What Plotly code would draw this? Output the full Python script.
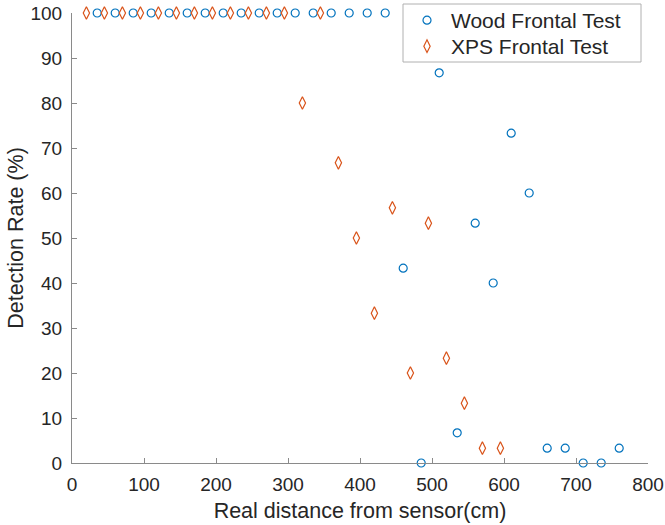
import plotly.graph_objects as go

# Detection rate vs. real distance for two frontal tests
wood_distance = [35, 60, 85, 110, 135, 160, 185, 210, 235, 260, 285, 310, 335, 360, 385, 410, 435,
                 460, 485, 510, 535, 560, 585, 610, 635, 660, 685, 710, 735, 760]
wood_rate = [100, 100, 100, 100, 100, 100, 100, 100, 100, 100, 100, 100, 100, 100, 100, 100, 100,
             43.3, 0, 86.7, 6.7, 53.3, 40, 73.3, 60, 3.3, 3.3, 0, 0, 3.3]

xps_distance = [20, 45, 70, 95, 120, 145, 170, 195, 220, 245, 270, 295, 320, 345,
                370, 395, 420, 445, 470, 495, 520, 545, 570, 595]
xps_rate = [100, 100, 100, 100, 100, 100, 100, 100, 100, 100, 100, 100, 80, 100,
            66.7, 50, 33.3, 56.7, 20, 53.3, 23.3, 13.3, 3.3, 3.3]

x_ticks = [0, 100, 200, 300, 400, 500, 600, 700, 800]
y_ticks = [0, 10, 20, 30, 40, 50, 60, 70, 80, 90, 100]

BLUE = "#0072BD"
ORANGE = "#D95319"
TEXT = "#262626"
AXIS = "#8a8a8a"
FONT = "Liberation Sans, Arial, Helvetica, sans-serif"

W, H = 665, 525
ML, MR, MT, MB = 72, 17, 13, 62
PW, PH = W - ML - MR, H - MT - MB


def px_x(px):
    return (px - ML) / PW


def px_y(py):
    return (H - MB - py) / PH


fig = go.Figure()
fig.add_trace(go.Scatter(
    x=wood_distance, y=wood_rate, mode="markers", name="Wood Frontal Test",
    marker=dict(symbol="circle-open", size=8, color=BLUE, line=dict(width=1.2, color=BLUE)),
    cliponaxis=False, legend="legend",
))
fig.add_trace(go.Scatter(
    x=xps_distance, y=xps_rate, mode="markers", name="XPS Frontal Test",
    marker=dict(symbol="diamond-tall-open", size=9, color=ORANGE, line=dict(width=1.2, color=ORANGE)),
    cliponaxis=False, legend="legend2",
))

axis_common = dict(
    showgrid=False, zeroline=False, showline=True, linecolor=AXIS, linewidth=1,
    ticks="inside", ticklen=5, tickcolor=AXIS, tickwidth=1,
    tickfont=dict(family=FONT, size=19, color=TEXT),
)

# legend frame drawn as a white box over the data
fig.add_shape(
    type="rect", xref="paper", yref="paper",
    x0=px_x(403), x1=px_x(641), y0=px_y(62), y1=px_y(4),
    fillcolor="white", line=dict(color="#b0b0b0", width=1), layer="above",
)

legend_common = dict(
    xanchor="left", yanchor="top",
    bgcolor="rgba(0,0,0,0)", borderwidth=0,
    font=dict(family=FONT, size=21, color=TEXT),
    itemwidth=38,
)

fig.update_layout(
    width=W, height=H,
    margin=dict(l=ML, r=MR, t=MT, b=MB, autoexpand=False),
    paper_bgcolor="white", plot_bgcolor="white",
    font=dict(family=FONT, color=TEXT),
    xaxis=dict(range=[0, 800], tickvals=x_ticks, ticklabelstandoff=4,
               title=dict(text="Real distance from sensor(cm)", font=dict(family=FONT, size=21.5, color=TEXT), standoff=9),
               **axis_common),
    yaxis=dict(range=[0, 100], tickvals=y_ticks, ticklabelstandoff=5,
               title=dict(text="Detection Rate (%)", font=dict(family=FONT, size=21.5, color=TEXT), standoff=0),
               **axis_common),
    legend=dict(x=px_x(403), y=px_y(0), **legend_common),
    legend2=dict(x=px_x(403), y=px_y(26), **legend_common),
    showlegend=True,
)

fig.write_html("out.html")
